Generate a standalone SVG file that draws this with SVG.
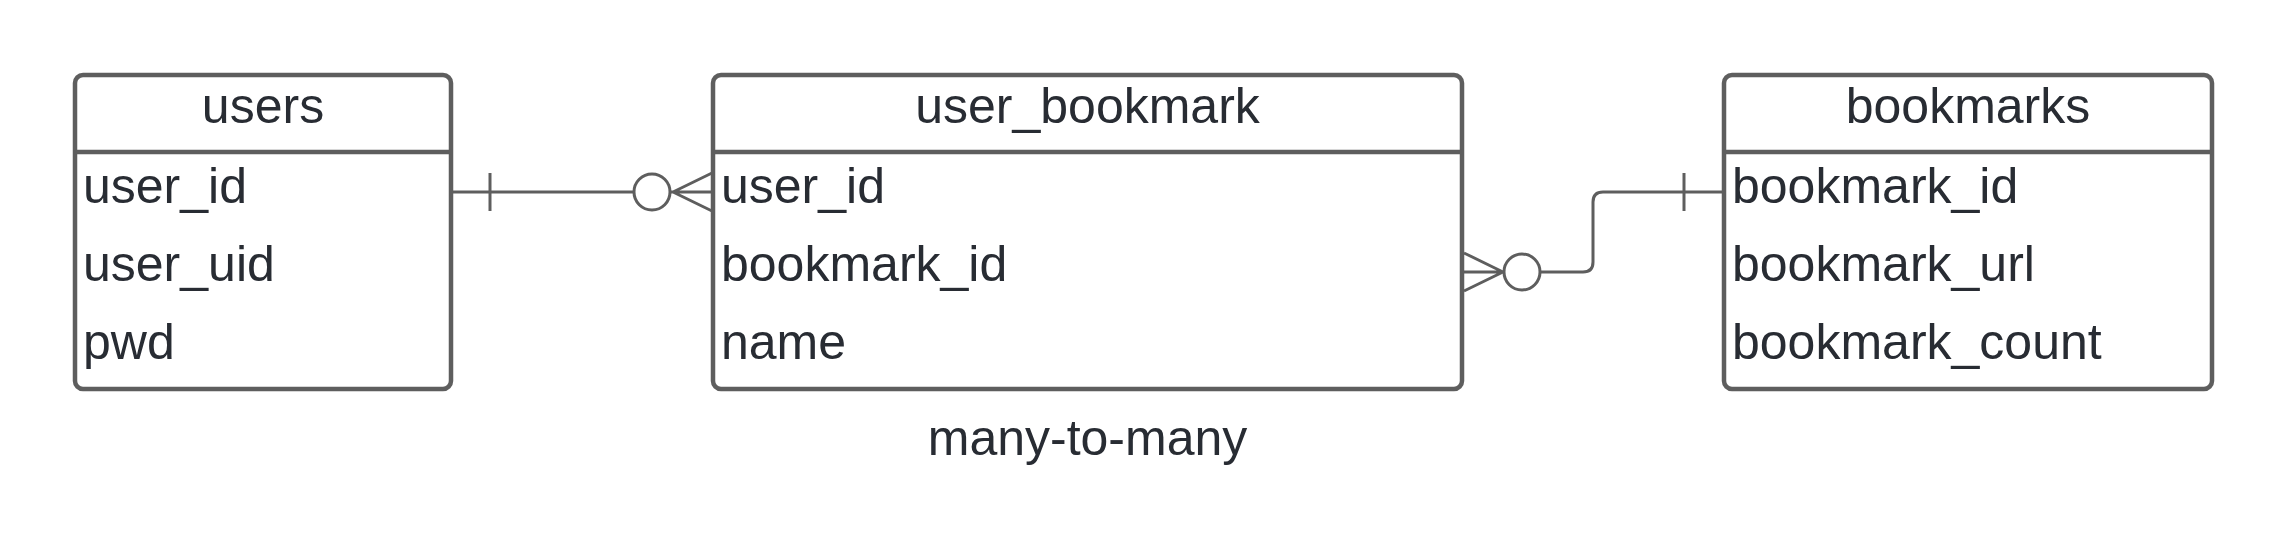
<svg xmlns="http://www.w3.org/2000/svg" width="2288" height="548" viewBox="0 0 2288 548">
<style>
.box{fill:#ffffff;stroke:#5e5e5e;stroke-width:4.5}
.div{stroke:#5e5e5e;stroke-width:4.5}
.t{font-family:"Liberation Sans",Arial,sans-serif;font-size:50px;fill:#282c33}
.h{text-anchor:middle}
.c{fill:none;stroke:#5e5e5e;stroke-width:3}
.o{fill:#ffffff;stroke:#5e5e5e;stroke-width:3}
</style>
<rect width="2288" height="548" fill="#ffffff"/>
<g id="connectors">
<g id="users-user_bookmark">
<line class="c" x1="452" y1="192" x2="634" y2="192"/>
<line class="c" x1="490" y1="173" x2="490" y2="211"/>
<circle class="o" cx="652" cy="192" r="18"/>
<path class="c" d="M670 192 H712 M673 192 L712 173 M673 192 L712 211"/>
</g>
<g id="bookmarks-user_bookmark">
<path class="c" d="M1540 272 H1583 Q1593 272 1593 262 V202 Q1593 192 1603 192 H1723"/>
<line class="c" x1="1684" y1="173" x2="1684" y2="211"/>
<circle class="o" cx="1522" cy="272" r="18"/>
<path class="c" d="M1464 272 H1504 M1503 272 L1464 253 M1503 272 L1464 291"/>
</g>
</g>
<g id="users">
<rect class="box" x="75" y="75" width="376" height="314" rx="8"/>
<line class="div" x1="75" y1="152" x2="451" y2="152"/>
<text class="t h" x="263" y="123">users</text>
<text class="t" x="83" y="203">user_id</text>
<text class="t" x="83" y="281">user_uid</text>
<text class="t" x="83" y="359">pwd</text>
</g>
<g id="user_bookmark">
<rect class="box" x="713" y="75" width="749" height="314" rx="8"/>
<line class="div" x1="713" y1="152" x2="1462" y2="152"/>
<text class="t h" x="1087.5" y="123">user_bookmark</text>
<text class="t" x="721" y="203">user_id</text>
<text class="t" x="721" y="281">bookmark_id</text>
<text class="t" x="721" y="359">name</text>
</g>
<g id="bookmarks">
<rect class="box" x="1724" y="75" width="488" height="314" rx="8"/>
<line class="div" x1="1724" y1="152" x2="2212" y2="152"/>
<text class="t h" x="1968" y="123">bookmarks</text>
<text class="t" x="1732" y="203">bookmark_id</text>
<text class="t" x="1732" y="281">bookmark_url</text>
<text class="t" x="1732" y="359">bookmark_count</text>
</g>
<g id="label">
<text class="t h" x="1087.5" y="455">many-to-many</text>
</g>
</svg>
